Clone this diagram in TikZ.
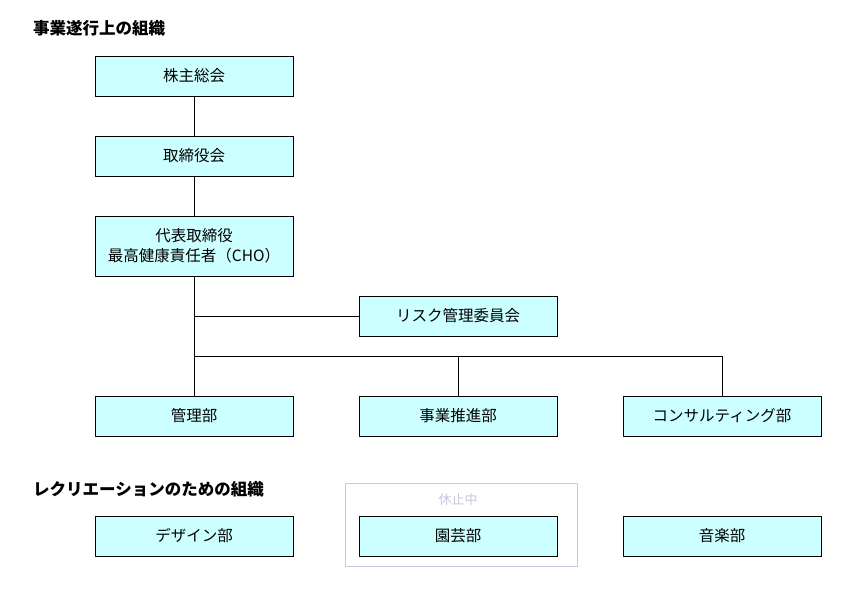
\documentclass[tikz,border=0pt]{standalone}
\usepackage{fontspec}
\setmainfont{Noto Sans CJK JP}
\usetikzlibrary{positioning,calc}
\definecolor{boxfill}{RGB}{204,255,255}
\definecolor{pausegray}{RGB}{200,200,222}
\tikzset{
  unit/.style={draw, line width=1pt, fill=boxfill, rectangle, minimum width=198pt, minimum height=40pt, align=center, inner sep=0pt, outer sep=0pt, font=\fontsize{15.5}{20}\selectfont},
  heading/.style={anchor=west, inner sep=0pt, font=\bfseries\fontsize{16.5}{20}\selectfont},
  link/.style={line width=1pt},
}

\begin{document}
\begin{tikzpicture}[x=1pt, y=-1pt, node distance=40pt and 66pt]
  \useasboundingbox (0,0) rectangle (850,592);
  % headings
  \node[heading] (hwork) at (33,28) {事業遂行上の組織};
  \node[heading] (hfun) at (33,489) {レクリエーションのための組織};

  % nodes
  \node[unit] (meeting) at (194,76) {株主総会};
  \node[unit, below=of meeting] (board) {取締役会};
  \node[unit, below=of board, minimum height=60pt] (ceo) {代表取締役\\最高健康責任者（CHO）};
  \node[unit, below=120pt of ceo] (admin) {管理部};
  \node[unit, right=of admin] (promo) {事業推進部};
  \node[unit, right=of promo] (consult) {コンサルティング部};
  \node[unit, above=60pt of promo] (risk) {リスク管理委員会};
  \node[coordinate, above=40pt of admin.north] (bus) {};

  % recreation
  \node[unit, below=80pt of admin] (design) {デザイン部};
  \node[unit, right=of design] (garden) {園芸部};
  \node[unit, right=of garden] (music) {音楽部};
  \draw[pausegray, line width=1pt] ($(garden.south west)+(-14,10)$) rectangle ($(garden.north east)+(20,-33)$);
  \node[text=pausegray, font=\fontsize{13}{15}\selectfont] (pause) at ($(garden.north)+(0,-16)$) {休止中};

  % connections
  \draw[link] (meeting) -- (board);
  \draw[link] (board) -- (ceo);
  \draw[link] (ceo) -- (admin);
  \draw[link] (ceo |- risk) -- (risk.west);
  \draw[link] (bus) -| (consult.north);
  \draw[link] (promo |- bus) -- (promo.north);
\end{tikzpicture}
\end{document}
